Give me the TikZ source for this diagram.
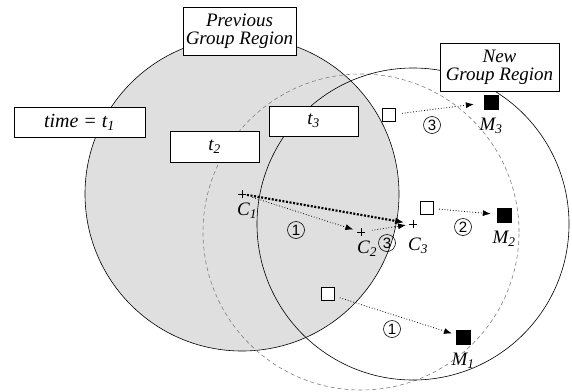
\documentclass[tikz,border=0pt]{standalone}
\usepackage{fontspec}
\setmainfont{Liberation Serif}
\newfontfamily\digitfont{Liberation Sans}
\usetikzlibrary{arrows.meta,positioning}
\newcommand{\lowsub}[1]{\textsubscript{\itshape #1}}

\begin{document}
\begin{tikzpicture}[x=1pt,y=-1pt,
	regionbox/.style={draw,fill=white,inner sep=0pt,align=center,font=\itshape\fontsize{19}{18}\selectfont},
	tag/.style={inner sep=0pt,font=\itshape\fontsize{19}{18}\selectfont},
	stepno/.style={circle,draw,line width=0.6pt,minimum size=17pt,inner sep=0pt,font=\digitfont\fontsize{15}{15}\selectfont},
	oldpos/.style={draw,line width=1pt,fill=white,minimum size=13pt,inner sep=0pt},
	newpos/.style={draw,fill=black,minimum size=14pt,inner sep=0pt},
	move/.style={dotted,line width=0.8pt,-{Latex[length=8pt,width=6pt]}},
	drift/.style={line width=2.2pt,dash pattern=on 2pt off 1.6pt,-{Latex[length=9pt,width=7pt]}}]
	\useasboundingbox (0,0) rectangle (572,391);
	\coordinate(C1) at (242,194);
	\coordinate(C2) at (361,232);
	\coordinate(C3) at (413,224);
	
	\draw[fill=gray!25,line width=0.6pt] (C1) circle (157pt);
	\draw[gray,dash pattern=on 4pt off 3pt,line width=0.6pt] (C2) circle (158pt);
	\draw[line width=0.6pt] (C3) circle (156pt);
	
	\node(prev) [regionbox,minimum width=113pt,minimum height=48pt] at (239.5,31) {Previous\\Group Region};
	\node(new) [regionbox,minimum width=119pt,minimum height=48pt] at (499.5,67) {New\\Group Region};
	\node(t1) [regionbox,minimum width=131pt,minimum height=30pt,font=\itshape\fontsize{20}{18}\selectfont] at (79.5,122) {time\ =\ t\lowsub{1}};
	\node(t2) [regionbox,minimum width=89pt,minimum height=31pt] at (214.5,146.5) {t\lowsub{2}};
	\node(t3) [regionbox,minimum width=89pt,minimum height=30pt] at (313.5,121) {t\lowsub{3}};
	
	\foreach \c in {C1,C2,C3}
		\draw[line width=0.6pt] (\c) +(-4,0) -- +(4,0) (\c) +(0,-4) -- +(0,4);
	\node(lC1) [tag] at (247,211) {C\lowsub{1}};
	\node(lC2) [tag] at (367,249) {C\lowsub{2}};
	\node(lC3) [tag] at (418,246) {C\lowsub{3}};
	
	\draw[drift,shorten <=5pt,shorten >=9pt] (C1) -- (C3);
	\draw[move,shorten <=11pt,shorten >=8pt] (C1) -- (C2);
	\draw[move,shorten <=11pt,shorten >=7pt] (C2) -- (C3);
	
	\node(O1) [oldpos] at (328,294) {};
	\node(O2) [oldpos] at (427,208) {};
	\node(O3) [oldpos] at (389,115) {};
	\node(M1) [newpos] at (463,337) {};
	\node(M2) [newpos] at (504,215) {};
	\node(M3) [newpos] at (491,102) {};
	\node(lM1) [tag,below=9pt of M1] {M\lowsub{1}};
	\node(lM2) [tag,below=9pt of M2] {M\lowsub{2}};
	\node(lM3) [tag,below=9pt of M3] {M\lowsub{3}};
	
	\draw[move,shorten <=5pt,shorten >=4pt] (O1) -- (M1);
	\draw[move,shorten <=5pt,shorten >=6pt] (O2) -- (M2);
	\draw[move,shorten <=6pt,shorten >=10pt] (O3) -- (M3);
	
	\node(n1a) [stepno] at (296,230) {1};
	\node(n3a) [stepno] at (387,243) {3};
	\node(n2) [stepno] at (463,227) {2};
	\node(n1b) [stepno] at (392,329) {1};
	\node(n3b) [stepno] at (432,125) {3};
\end{tikzpicture}
\end{document}
